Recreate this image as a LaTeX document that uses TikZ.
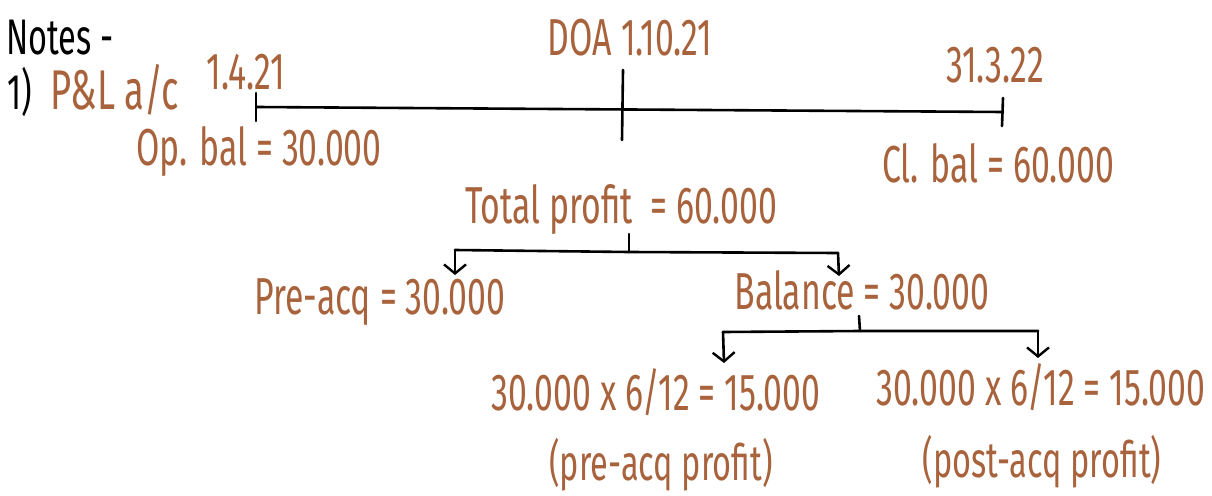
\documentclass[tikz,border=0pt]{standalone}
\usepackage{fontspec}
\setmainfont{Fira Sans}[FakeStretch=0.65]
\usetikzlibrary{arrows.meta}
\definecolor{brn}{HTML}{A8633C}
\tikzset{
  hw/.style={font=\fontsize{52}{58}\selectfont, text=brn, inner sep=0pt, anchor=center},
  hwk/.style={font=\fontsize{50}{56}\selectfont, text=black, inner sep=0pt, anchor=center},
  ink/.style={draw=black, line width=2.6pt, line cap=round, line join=round},
  darr/.style={ink, -{Straight Barb[length=9pt,width=22pt,line width=2.4pt]}}
}
\begin{document}
\begin{tikzpicture}[x=1pt,y=-1pt]
\useasboundingbox (0,0) rectangle (1212,495);
% headings
\node[hwk] (notes) at (60,38) {Notes -};
\node[hwk] (one) at (20,92) {1)};
\node[hw, font=\fontsize{56}{62}\selectfont] (pl) at (115,90) {P\&L a/c};
% timeline labels
\node[hw] (d1) at (246,72) {1.4.21};
\node[hw] (doa) at (630,38) {DOA 1.10.21};
\node[hw] (d3) at (995,65) {31.3.22};
\node[hw] (op) at (259,152) {Op. bal = 30.000};
\node[hw] (cl) at (998,163) {Cl. bal = 60.000};
% timeline
\coordinate (tlL) at (257,107);
\coordinate (tlR) at (1003,112);
\coordinate (tkLa) at (256,93);  \coordinate (tkLb) at (256,121);
\coordinate (tkMa) at (623,70);  \coordinate (tkMb) at (622,140);
\coordinate (tkRa) at (1003,98); \coordinate (tkRb) at (1002,126);
\draw[ink] (tlL) -- (tlR);
\draw[ink] (tkLa) -- (tkLb);
\draw[ink] (tkMa) -- (tkMb);
\draw[ink] (tkRa) -- (tkRb);
% total profit split
\node[hw] (tp) at (621,210) {Total profit\, = 60.000};
\node[hw] (pre) at (380,302) {Pre-acq = 30.000};
\node[hw] (bal) at (862,290) {Balance = 30.000};
\coordinate (s1) at (629,234);
\coordinate (j1) at (629,252);
\coordinate (h1L) at (455,250);
\coordinate (h1R) at (838,253);
\coordinate (a1L) at (455,275);
\coordinate (a1R) at (839,276);
\draw[ink] (s1) -- (j1);
\draw[ink] (h1L) -- (j1) -- (h1R);
\draw[darr] (h1L) -- (a1L);
\draw[darr] (h1R) -- (a1R);
% balance split
\node[hw] (c1) at (656,392) {30.000 x 6/12 = 15.000};
\node[hw] (c2) at (1041,387) {30.000 x 6/12 = 15.000};
\node[hw, font=\fontsize{50}{56}\selectfont] (l1) at (661,465) {(pre-acq profit)};
\node[hw, font=\fontsize{50}{56}\selectfont] (l2) at (1042,462) {(post-acq profit)};
\coordinate (s2) at (859,316);
\coordinate (j2) at (860,331);
\coordinate (h2L) at (723,332);
\coordinate (h2R) at (1038,331);
\coordinate (a2L) at (724,363);
\coordinate (a2R) at (1038,358);
\draw[ink] (s2) -- (j2);
\draw[ink] (h2L) -- (j2) -- (h2R);
\draw[darr] (h2L) -- (a2L);
\draw[darr] (h2R) -- (a2R);
\end{tikzpicture}
\end{document}
